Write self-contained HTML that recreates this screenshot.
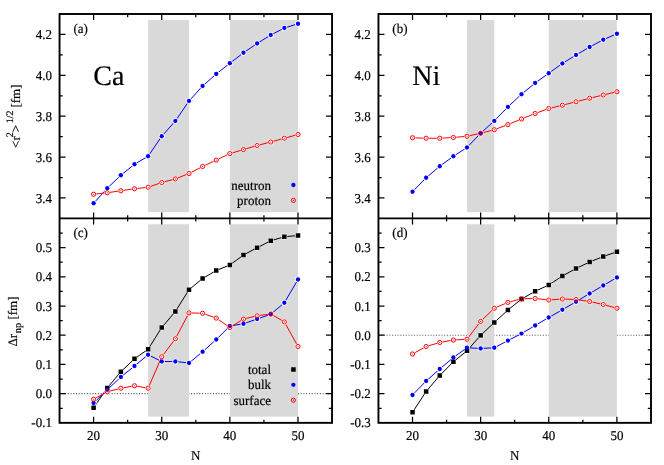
<!DOCTYPE html>
<html><head><meta charset="utf-8"><title>chart</title>
<style>
html,body{margin:0;padding:0;background:#fff;}
body{width:664px;height:465px;position:relative;overflow:hidden;font-family:"Liberation Serif",serif;color:#000;}
svg text{font-family:"Liberation Serif",serif;}
</style></head><body>
<svg width="664" height="465" viewBox="0 0 664 465" style="position:absolute;left:0;top:0">
<rect x="0" y="0" width="664" height="465" fill="#fff"/>
<line x1="59.55" y1="393.64" x2="332.05" y2="393.64" stroke="#555" stroke-width="1.1" stroke-dasharray="1 1.74"/>
<line x1="378.45" y1="335.23" x2="651.00" y2="335.23" stroke="#555" stroke-width="1.1" stroke-dasharray="1 1.74"/>
<rect x="148.11" y="20.10" width="40.88" height="192.10" fill="#d9d9d9"/>
<rect x="229.86" y="20.10" width="68.12" height="192.10" fill="#d9d9d9"/>
<rect x="467.01" y="20.10" width="27.25" height="192.10" fill="#d9d9d9"/>
<rect x="548.76" y="20.10" width="68.12" height="192.10" fill="#d9d9d9"/>
<rect x="148.11" y="224.30" width="40.88" height="192.35" fill="#d9d9d9"/>
<rect x="229.86" y="224.30" width="68.12" height="192.35" fill="#d9d9d9"/>
<rect x="467.01" y="224.30" width="27.25" height="192.35" fill="#d9d9d9"/>
<rect x="548.76" y="224.30" width="68.12" height="192.35" fill="#d9d9d9"/>
<polyline fill="none" stroke="#0000ff" stroke-width="1" points="93.61,203.25 107.24,188.25 120.86,175.25 134.49,164.25 148.11,156.25 161.74,136.25 175.36,121.00 188.99,101.00 202.61,86.00 216.24,74.00 229.86,63.25 243.49,52.75 257.11,43.50 270.74,35.00 284.36,28.00 297.99,23.75"/>
<circle cx="93.61" cy="203.25" r="2.95" fill="#fff"/>
<circle cx="107.24" cy="188.25" r="2.95" fill="#fff"/>
<circle cx="120.86" cy="175.25" r="2.95" fill="#fff"/>
<circle cx="134.49" cy="164.25" r="2.95" fill="#fff"/>
<circle cx="148.11" cy="156.25" r="2.95" fill="#fff"/>
<circle cx="161.74" cy="136.25" r="2.95" fill="#fff"/>
<circle cx="175.36" cy="121.00" r="2.95" fill="#fff"/>
<circle cx="188.99" cy="101.00" r="2.95" fill="#fff"/>
<circle cx="202.61" cy="86.00" r="2.95" fill="#fff"/>
<circle cx="216.24" cy="74.00" r="2.95" fill="#fff"/>
<circle cx="229.86" cy="63.25" r="2.95" fill="#fff"/>
<circle cx="243.49" cy="52.75" r="2.95" fill="#fff"/>
<circle cx="257.11" cy="43.50" r="2.95" fill="#fff"/>
<circle cx="270.74" cy="35.00" r="2.95" fill="#fff"/>
<circle cx="284.36" cy="28.00" r="2.95" fill="#fff"/>
<circle cx="297.99" cy="23.75" r="2.95" fill="#fff"/>
<polyline fill="none" stroke="#ff0000" stroke-width="1" points="93.61,194.25 107.24,192.75 120.86,190.75 134.49,188.75 148.11,187.25 161.74,182.50 175.36,178.90 188.99,173.50 202.61,166.50 216.24,160.10 229.86,153.60 243.49,149.60 257.11,145.50 270.74,142.00 284.36,138.25 297.99,134.50"/>
<circle cx="93.61" cy="194.25" r="2.95" fill="#fff"/>
<circle cx="107.24" cy="192.75" r="2.95" fill="#fff"/>
<circle cx="120.86" cy="190.75" r="2.95" fill="#fff"/>
<circle cx="134.49" cy="188.75" r="2.95" fill="#fff"/>
<circle cx="148.11" cy="187.25" r="2.95" fill="#fff"/>
<circle cx="161.74" cy="182.50" r="2.95" fill="#fff"/>
<circle cx="175.36" cy="178.90" r="2.95" fill="#fff"/>
<circle cx="188.99" cy="173.50" r="2.95" fill="#fff"/>
<circle cx="202.61" cy="166.50" r="2.95" fill="#fff"/>
<circle cx="216.24" cy="160.10" r="2.95" fill="#fff"/>
<circle cx="229.86" cy="153.60" r="2.95" fill="#fff"/>
<circle cx="243.49" cy="149.60" r="2.95" fill="#fff"/>
<circle cx="257.11" cy="145.50" r="2.95" fill="#fff"/>
<circle cx="270.74" cy="142.00" r="2.95" fill="#fff"/>
<circle cx="284.36" cy="138.25" r="2.95" fill="#fff"/>
<circle cx="297.99" cy="134.50" r="2.95" fill="#fff"/>
<circle cx="93.61" cy="203.25" r="2.15" fill="#0000ff"/>
<circle cx="107.24" cy="188.25" r="2.15" fill="#0000ff"/>
<circle cx="120.86" cy="175.25" r="2.15" fill="#0000ff"/>
<circle cx="134.49" cy="164.25" r="2.15" fill="#0000ff"/>
<circle cx="148.11" cy="156.25" r="2.15" fill="#0000ff"/>
<circle cx="161.74" cy="136.25" r="2.15" fill="#0000ff"/>
<circle cx="175.36" cy="121.00" r="2.15" fill="#0000ff"/>
<circle cx="188.99" cy="101.00" r="2.15" fill="#0000ff"/>
<circle cx="202.61" cy="86.00" r="2.15" fill="#0000ff"/>
<circle cx="216.24" cy="74.00" r="2.15" fill="#0000ff"/>
<circle cx="229.86" cy="63.25" r="2.15" fill="#0000ff"/>
<circle cx="243.49" cy="52.75" r="2.15" fill="#0000ff"/>
<circle cx="257.11" cy="43.50" r="2.15" fill="#0000ff"/>
<circle cx="270.74" cy="35.00" r="2.15" fill="#0000ff"/>
<circle cx="284.36" cy="28.00" r="2.15" fill="#0000ff"/>
<circle cx="297.99" cy="23.75" r="2.15" fill="#0000ff"/>
<circle cx="93.61" cy="194.25" r="2.1" fill="none" stroke="#ff0000" stroke-width="1.0"/>
<circle cx="93.61" cy="194.25" r="0.6" fill="#ff0000"/>
<circle cx="107.24" cy="192.75" r="2.1" fill="none" stroke="#ff0000" stroke-width="1.0"/>
<circle cx="107.24" cy="192.75" r="0.6" fill="#ff0000"/>
<circle cx="120.86" cy="190.75" r="2.1" fill="none" stroke="#ff0000" stroke-width="1.0"/>
<circle cx="120.86" cy="190.75" r="0.6" fill="#ff0000"/>
<circle cx="134.49" cy="188.75" r="2.1" fill="none" stroke="#ff0000" stroke-width="1.0"/>
<circle cx="134.49" cy="188.75" r="0.6" fill="#ff0000"/>
<circle cx="148.11" cy="187.25" r="2.1" fill="none" stroke="#ff0000" stroke-width="1.0"/>
<circle cx="148.11" cy="187.25" r="0.6" fill="#ff0000"/>
<circle cx="161.74" cy="182.50" r="2.1" fill="none" stroke="#ff0000" stroke-width="1.0"/>
<circle cx="161.74" cy="182.50" r="0.6" fill="#ff0000"/>
<circle cx="175.36" cy="178.90" r="2.1" fill="none" stroke="#ff0000" stroke-width="1.0"/>
<circle cx="175.36" cy="178.90" r="0.6" fill="#ff0000"/>
<circle cx="188.99" cy="173.50" r="2.1" fill="none" stroke="#ff0000" stroke-width="1.0"/>
<circle cx="188.99" cy="173.50" r="0.6" fill="#ff0000"/>
<circle cx="202.61" cy="166.50" r="2.1" fill="none" stroke="#ff0000" stroke-width="1.0"/>
<circle cx="202.61" cy="166.50" r="0.6" fill="#ff0000"/>
<circle cx="216.24" cy="160.10" r="2.1" fill="none" stroke="#ff0000" stroke-width="1.0"/>
<circle cx="216.24" cy="160.10" r="0.6" fill="#ff0000"/>
<circle cx="229.86" cy="153.60" r="2.1" fill="none" stroke="#ff0000" stroke-width="1.0"/>
<circle cx="229.86" cy="153.60" r="0.6" fill="#ff0000"/>
<circle cx="243.49" cy="149.60" r="2.1" fill="none" stroke="#ff0000" stroke-width="1.0"/>
<circle cx="243.49" cy="149.60" r="0.6" fill="#ff0000"/>
<circle cx="257.11" cy="145.50" r="2.1" fill="none" stroke="#ff0000" stroke-width="1.0"/>
<circle cx="257.11" cy="145.50" r="0.6" fill="#ff0000"/>
<circle cx="270.74" cy="142.00" r="2.1" fill="none" stroke="#ff0000" stroke-width="1.0"/>
<circle cx="270.74" cy="142.00" r="0.6" fill="#ff0000"/>
<circle cx="284.36" cy="138.25" r="2.1" fill="none" stroke="#ff0000" stroke-width="1.0"/>
<circle cx="284.36" cy="138.25" r="0.6" fill="#ff0000"/>
<circle cx="297.99" cy="134.50" r="2.1" fill="none" stroke="#ff0000" stroke-width="1.0"/>
<circle cx="297.99" cy="134.50" r="0.6" fill="#ff0000"/>
<polyline fill="none" stroke="#0000ff" stroke-width="1" points="412.51,191.75 426.14,177.75 439.76,166.25 453.39,156.25 467.01,147.50 480.64,133.25 494.26,120.90 507.89,106.90 521.51,94.25 535.14,83.00 548.76,73.25 562.39,63.50 576.01,55.00 589.64,47.00 603.26,39.75 616.89,33.75"/>
<circle cx="412.51" cy="191.75" r="2.95" fill="#fff"/>
<circle cx="426.14" cy="177.75" r="2.95" fill="#fff"/>
<circle cx="439.76" cy="166.25" r="2.95" fill="#fff"/>
<circle cx="453.39" cy="156.25" r="2.95" fill="#fff"/>
<circle cx="467.01" cy="147.50" r="2.95" fill="#fff"/>
<circle cx="480.64" cy="133.25" r="2.95" fill="#fff"/>
<circle cx="494.26" cy="120.90" r="2.95" fill="#fff"/>
<circle cx="507.89" cy="106.90" r="2.95" fill="#fff"/>
<circle cx="521.51" cy="94.25" r="2.95" fill="#fff"/>
<circle cx="535.14" cy="83.00" r="2.95" fill="#fff"/>
<circle cx="548.76" cy="73.25" r="2.95" fill="#fff"/>
<circle cx="562.39" cy="63.50" r="2.95" fill="#fff"/>
<circle cx="576.01" cy="55.00" r="2.95" fill="#fff"/>
<circle cx="589.64" cy="47.00" r="2.95" fill="#fff"/>
<circle cx="603.26" cy="39.75" r="2.95" fill="#fff"/>
<circle cx="616.89" cy="33.75" r="2.95" fill="#fff"/>
<polyline fill="none" stroke="#ff0000" stroke-width="1" points="412.51,137.75 426.14,138.25 439.76,138.25 453.39,137.50 467.01,136.25 480.64,133.25 494.26,129.75 507.89,124.60 521.51,119.00 535.14,113.50 548.76,108.50 562.39,105.25 576.01,101.75 589.64,98.25 603.26,95.00 616.89,91.75"/>
<circle cx="412.51" cy="137.75" r="2.95" fill="#fff"/>
<circle cx="426.14" cy="138.25" r="2.95" fill="#fff"/>
<circle cx="439.76" cy="138.25" r="2.95" fill="#fff"/>
<circle cx="453.39" cy="137.50" r="2.95" fill="#fff"/>
<circle cx="467.01" cy="136.25" r="2.95" fill="#fff"/>
<circle cx="480.64" cy="133.25" r="2.95" fill="#fff"/>
<circle cx="494.26" cy="129.75" r="2.95" fill="#fff"/>
<circle cx="507.89" cy="124.60" r="2.95" fill="#fff"/>
<circle cx="521.51" cy="119.00" r="2.95" fill="#fff"/>
<circle cx="535.14" cy="113.50" r="2.95" fill="#fff"/>
<circle cx="548.76" cy="108.50" r="2.95" fill="#fff"/>
<circle cx="562.39" cy="105.25" r="2.95" fill="#fff"/>
<circle cx="576.01" cy="101.75" r="2.95" fill="#fff"/>
<circle cx="589.64" cy="98.25" r="2.95" fill="#fff"/>
<circle cx="603.26" cy="95.00" r="2.95" fill="#fff"/>
<circle cx="616.89" cy="91.75" r="2.95" fill="#fff"/>
<circle cx="412.51" cy="191.75" r="2.15" fill="#0000ff"/>
<circle cx="426.14" cy="177.75" r="2.15" fill="#0000ff"/>
<circle cx="439.76" cy="166.25" r="2.15" fill="#0000ff"/>
<circle cx="453.39" cy="156.25" r="2.15" fill="#0000ff"/>
<circle cx="467.01" cy="147.50" r="2.15" fill="#0000ff"/>
<circle cx="480.64" cy="133.25" r="2.15" fill="#0000ff"/>
<circle cx="494.26" cy="120.90" r="2.15" fill="#0000ff"/>
<circle cx="507.89" cy="106.90" r="2.15" fill="#0000ff"/>
<circle cx="521.51" cy="94.25" r="2.15" fill="#0000ff"/>
<circle cx="535.14" cy="83.00" r="2.15" fill="#0000ff"/>
<circle cx="548.76" cy="73.25" r="2.15" fill="#0000ff"/>
<circle cx="562.39" cy="63.50" r="2.15" fill="#0000ff"/>
<circle cx="576.01" cy="55.00" r="2.15" fill="#0000ff"/>
<circle cx="589.64" cy="47.00" r="2.15" fill="#0000ff"/>
<circle cx="603.26" cy="39.75" r="2.15" fill="#0000ff"/>
<circle cx="616.89" cy="33.75" r="2.15" fill="#0000ff"/>
<circle cx="412.51" cy="137.75" r="2.1" fill="none" stroke="#ff0000" stroke-width="1.0"/>
<circle cx="412.51" cy="137.75" r="0.6" fill="#ff0000"/>
<circle cx="426.14" cy="138.25" r="2.1" fill="none" stroke="#ff0000" stroke-width="1.0"/>
<circle cx="426.14" cy="138.25" r="0.6" fill="#ff0000"/>
<circle cx="439.76" cy="138.25" r="2.1" fill="none" stroke="#ff0000" stroke-width="1.0"/>
<circle cx="439.76" cy="138.25" r="0.6" fill="#ff0000"/>
<circle cx="453.39" cy="137.50" r="2.1" fill="none" stroke="#ff0000" stroke-width="1.0"/>
<circle cx="453.39" cy="137.50" r="0.6" fill="#ff0000"/>
<circle cx="467.01" cy="136.25" r="2.1" fill="none" stroke="#ff0000" stroke-width="1.0"/>
<circle cx="467.01" cy="136.25" r="0.6" fill="#ff0000"/>
<circle cx="480.64" cy="133.25" r="2.1" fill="none" stroke="#ff0000" stroke-width="1.0"/>
<circle cx="480.64" cy="133.25" r="0.6" fill="#ff0000"/>
<circle cx="494.26" cy="129.75" r="2.1" fill="none" stroke="#ff0000" stroke-width="1.0"/>
<circle cx="494.26" cy="129.75" r="0.6" fill="#ff0000"/>
<circle cx="507.89" cy="124.60" r="2.1" fill="none" stroke="#ff0000" stroke-width="1.0"/>
<circle cx="507.89" cy="124.60" r="0.6" fill="#ff0000"/>
<circle cx="521.51" cy="119.00" r="2.1" fill="none" stroke="#ff0000" stroke-width="1.0"/>
<circle cx="521.51" cy="119.00" r="0.6" fill="#ff0000"/>
<circle cx="535.14" cy="113.50" r="2.1" fill="none" stroke="#ff0000" stroke-width="1.0"/>
<circle cx="535.14" cy="113.50" r="0.6" fill="#ff0000"/>
<circle cx="548.76" cy="108.50" r="2.1" fill="none" stroke="#ff0000" stroke-width="1.0"/>
<circle cx="548.76" cy="108.50" r="0.6" fill="#ff0000"/>
<circle cx="562.39" cy="105.25" r="2.1" fill="none" stroke="#ff0000" stroke-width="1.0"/>
<circle cx="562.39" cy="105.25" r="0.6" fill="#ff0000"/>
<circle cx="576.01" cy="101.75" r="2.1" fill="none" stroke="#ff0000" stroke-width="1.0"/>
<circle cx="576.01" cy="101.75" r="0.6" fill="#ff0000"/>
<circle cx="589.64" cy="98.25" r="2.1" fill="none" stroke="#ff0000" stroke-width="1.0"/>
<circle cx="589.64" cy="98.25" r="0.6" fill="#ff0000"/>
<circle cx="603.26" cy="95.00" r="2.1" fill="none" stroke="#ff0000" stroke-width="1.0"/>
<circle cx="603.26" cy="95.00" r="0.6" fill="#ff0000"/>
<circle cx="616.89" cy="91.75" r="2.1" fill="none" stroke="#ff0000" stroke-width="1.0"/>
<circle cx="616.89" cy="91.75" r="0.6" fill="#ff0000"/>
<polyline fill="none" stroke="#000" stroke-width="1" points="93.61,407.75 107.24,388.00 120.86,371.75 134.49,358.75 148.11,349.25 161.74,327.50 175.36,311.50 188.99,289.75 202.61,278.50 216.24,270.50 229.86,265.00 243.49,255.00 257.11,247.75 270.74,240.75 284.36,236.75 297.99,235.50"/>
<circle cx="93.61" cy="407.75" r="2.95" fill="#fff"/>
<circle cx="107.24" cy="388.00" r="2.95" fill="#fff"/>
<circle cx="120.86" cy="371.75" r="2.95" fill="#fff"/>
<circle cx="134.49" cy="358.75" r="2.95" fill="#fff"/>
<circle cx="148.11" cy="349.25" r="2.95" fill="#fff"/>
<circle cx="161.74" cy="327.50" r="2.95" fill="#fff"/>
<circle cx="175.36" cy="311.50" r="2.95" fill="#fff"/>
<circle cx="188.99" cy="289.75" r="2.95" fill="#fff"/>
<circle cx="202.61" cy="278.50" r="2.95" fill="#fff"/>
<circle cx="216.24" cy="270.50" r="2.95" fill="#fff"/>
<circle cx="229.86" cy="265.00" r="2.95" fill="#fff"/>
<circle cx="243.49" cy="255.00" r="2.95" fill="#fff"/>
<circle cx="257.11" cy="247.75" r="2.95" fill="#fff"/>
<circle cx="270.74" cy="240.75" r="2.95" fill="#fff"/>
<circle cx="284.36" cy="236.75" r="2.95" fill="#fff"/>
<circle cx="297.99" cy="235.50" r="2.95" fill="#fff"/>
<polyline fill="none" stroke="#0000ff" stroke-width="1" points="93.61,403.00 107.24,389.75 120.86,377.00 134.49,366.00 148.11,354.75 161.74,361.50 175.36,361.50 188.99,363.00 202.61,351.75 216.24,339.50 229.86,326.00 243.49,323.75 257.11,319.00 270.74,314.25 284.36,302.75 297.99,279.50"/>
<circle cx="93.61" cy="403.00" r="2.95" fill="#fff"/>
<circle cx="107.24" cy="389.75" r="2.95" fill="#fff"/>
<circle cx="120.86" cy="377.00" r="2.95" fill="#fff"/>
<circle cx="134.49" cy="366.00" r="2.95" fill="#fff"/>
<circle cx="148.11" cy="354.75" r="2.95" fill="#fff"/>
<circle cx="161.74" cy="361.50" r="2.95" fill="#fff"/>
<circle cx="175.36" cy="361.50" r="2.95" fill="#fff"/>
<circle cx="188.99" cy="363.00" r="2.95" fill="#fff"/>
<circle cx="202.61" cy="351.75" r="2.95" fill="#fff"/>
<circle cx="216.24" cy="339.50" r="2.95" fill="#fff"/>
<circle cx="229.86" cy="326.00" r="2.95" fill="#fff"/>
<circle cx="243.49" cy="323.75" r="2.95" fill="#fff"/>
<circle cx="257.11" cy="319.00" r="2.95" fill="#fff"/>
<circle cx="270.74" cy="314.25" r="2.95" fill="#fff"/>
<circle cx="284.36" cy="302.75" r="2.95" fill="#fff"/>
<circle cx="297.99" cy="279.50" r="2.95" fill="#fff"/>
<polyline fill="none" stroke="#ff0000" stroke-width="1" points="93.61,399.25 107.24,391.75 120.86,388.25 134.49,385.75 148.11,388.25 161.74,356.75 175.36,338.75 188.99,312.90 202.61,313.25 216.24,318.10 229.86,327.50 243.49,319.10 257.11,315.75 270.74,314.00 284.36,321.90 297.99,346.50"/>
<circle cx="93.61" cy="399.25" r="2.95" fill="#fff"/>
<circle cx="107.24" cy="391.75" r="2.95" fill="#fff"/>
<circle cx="120.86" cy="388.25" r="2.95" fill="#fff"/>
<circle cx="134.49" cy="385.75" r="2.95" fill="#fff"/>
<circle cx="148.11" cy="388.25" r="2.95" fill="#fff"/>
<circle cx="161.74" cy="356.75" r="2.95" fill="#fff"/>
<circle cx="175.36" cy="338.75" r="2.95" fill="#fff"/>
<circle cx="188.99" cy="312.90" r="2.95" fill="#fff"/>
<circle cx="202.61" cy="313.25" r="2.95" fill="#fff"/>
<circle cx="216.24" cy="318.10" r="2.95" fill="#fff"/>
<circle cx="229.86" cy="327.50" r="2.95" fill="#fff"/>
<circle cx="243.49" cy="319.10" r="2.95" fill="#fff"/>
<circle cx="257.11" cy="315.75" r="2.95" fill="#fff"/>
<circle cx="270.74" cy="314.00" r="2.95" fill="#fff"/>
<circle cx="284.36" cy="321.90" r="2.95" fill="#fff"/>
<circle cx="297.99" cy="346.50" r="2.95" fill="#fff"/>
<rect x="91.36" y="405.50" width="4.5" height="4.5" fill="#000"/>
<rect x="104.99" y="385.75" width="4.5" height="4.5" fill="#000"/>
<rect x="118.61" y="369.50" width="4.5" height="4.5" fill="#000"/>
<rect x="132.24" y="356.50" width="4.5" height="4.5" fill="#000"/>
<rect x="145.86" y="347.00" width="4.5" height="4.5" fill="#000"/>
<rect x="159.49" y="325.25" width="4.5" height="4.5" fill="#000"/>
<rect x="173.11" y="309.25" width="4.5" height="4.5" fill="#000"/>
<rect x="186.74" y="287.50" width="4.5" height="4.5" fill="#000"/>
<rect x="200.36" y="276.25" width="4.5" height="4.5" fill="#000"/>
<rect x="213.99" y="268.25" width="4.5" height="4.5" fill="#000"/>
<rect x="227.61" y="262.75" width="4.5" height="4.5" fill="#000"/>
<rect x="241.24" y="252.75" width="4.5" height="4.5" fill="#000"/>
<rect x="254.86" y="245.50" width="4.5" height="4.5" fill="#000"/>
<rect x="268.49" y="238.50" width="4.5" height="4.5" fill="#000"/>
<rect x="282.11" y="234.50" width="4.5" height="4.5" fill="#000"/>
<rect x="295.74" y="233.25" width="4.5" height="4.5" fill="#000"/>
<circle cx="93.61" cy="403.00" r="2.15" fill="#0000ff"/>
<circle cx="107.24" cy="389.75" r="2.15" fill="#0000ff"/>
<circle cx="120.86" cy="377.00" r="2.15" fill="#0000ff"/>
<circle cx="134.49" cy="366.00" r="2.15" fill="#0000ff"/>
<circle cx="148.11" cy="354.75" r="2.15" fill="#0000ff"/>
<circle cx="161.74" cy="361.50" r="2.15" fill="#0000ff"/>
<circle cx="175.36" cy="361.50" r="2.15" fill="#0000ff"/>
<circle cx="188.99" cy="363.00" r="2.15" fill="#0000ff"/>
<circle cx="202.61" cy="351.75" r="2.15" fill="#0000ff"/>
<circle cx="216.24" cy="339.50" r="2.15" fill="#0000ff"/>
<circle cx="229.86" cy="326.00" r="2.15" fill="#0000ff"/>
<circle cx="243.49" cy="323.75" r="2.15" fill="#0000ff"/>
<circle cx="257.11" cy="319.00" r="2.15" fill="#0000ff"/>
<circle cx="270.74" cy="314.25" r="2.15" fill="#0000ff"/>
<circle cx="284.36" cy="302.75" r="2.15" fill="#0000ff"/>
<circle cx="297.99" cy="279.50" r="2.15" fill="#0000ff"/>
<circle cx="93.61" cy="399.25" r="2.1" fill="none" stroke="#ff0000" stroke-width="1.0"/>
<circle cx="93.61" cy="399.25" r="0.6" fill="#ff0000"/>
<circle cx="107.24" cy="391.75" r="2.1" fill="none" stroke="#ff0000" stroke-width="1.0"/>
<circle cx="107.24" cy="391.75" r="0.6" fill="#ff0000"/>
<circle cx="120.86" cy="388.25" r="2.1" fill="none" stroke="#ff0000" stroke-width="1.0"/>
<circle cx="120.86" cy="388.25" r="0.6" fill="#ff0000"/>
<circle cx="134.49" cy="385.75" r="2.1" fill="none" stroke="#ff0000" stroke-width="1.0"/>
<circle cx="134.49" cy="385.75" r="0.6" fill="#ff0000"/>
<circle cx="148.11" cy="388.25" r="2.1" fill="none" stroke="#ff0000" stroke-width="1.0"/>
<circle cx="148.11" cy="388.25" r="0.6" fill="#ff0000"/>
<circle cx="161.74" cy="356.75" r="2.1" fill="none" stroke="#ff0000" stroke-width="1.0"/>
<circle cx="161.74" cy="356.75" r="0.6" fill="#ff0000"/>
<circle cx="175.36" cy="338.75" r="2.1" fill="none" stroke="#ff0000" stroke-width="1.0"/>
<circle cx="175.36" cy="338.75" r="0.6" fill="#ff0000"/>
<circle cx="188.99" cy="312.90" r="2.1" fill="none" stroke="#ff0000" stroke-width="1.0"/>
<circle cx="188.99" cy="312.90" r="0.6" fill="#ff0000"/>
<circle cx="202.61" cy="313.25" r="2.1" fill="none" stroke="#ff0000" stroke-width="1.0"/>
<circle cx="202.61" cy="313.25" r="0.6" fill="#ff0000"/>
<circle cx="216.24" cy="318.10" r="2.1" fill="none" stroke="#ff0000" stroke-width="1.0"/>
<circle cx="216.24" cy="318.10" r="0.6" fill="#ff0000"/>
<circle cx="229.86" cy="327.50" r="2.1" fill="none" stroke="#ff0000" stroke-width="1.0"/>
<circle cx="229.86" cy="327.50" r="0.6" fill="#ff0000"/>
<circle cx="243.49" cy="319.10" r="2.1" fill="none" stroke="#ff0000" stroke-width="1.0"/>
<circle cx="243.49" cy="319.10" r="0.6" fill="#ff0000"/>
<circle cx="257.11" cy="315.75" r="2.1" fill="none" stroke="#ff0000" stroke-width="1.0"/>
<circle cx="257.11" cy="315.75" r="0.6" fill="#ff0000"/>
<circle cx="270.74" cy="314.00" r="2.1" fill="none" stroke="#ff0000" stroke-width="1.0"/>
<circle cx="270.74" cy="314.00" r="0.6" fill="#ff0000"/>
<circle cx="284.36" cy="321.90" r="2.1" fill="none" stroke="#ff0000" stroke-width="1.0"/>
<circle cx="284.36" cy="321.90" r="0.6" fill="#ff0000"/>
<circle cx="297.99" cy="346.50" r="2.1" fill="none" stroke="#ff0000" stroke-width="1.0"/>
<circle cx="297.99" cy="346.50" r="0.6" fill="#ff0000"/>
<polyline fill="none" stroke="#000" stroke-width="1" points="412.51,412.25 426.14,391.50 439.76,375.50 453.39,361.75 467.01,350.75 480.64,335.40 494.26,322.50 507.89,310.00 521.51,299.10 535.14,291.25 548.76,285.00 562.39,276.00 576.01,268.50 589.64,262.00 603.26,256.50 616.89,251.75"/>
<circle cx="412.51" cy="412.25" r="2.95" fill="#fff"/>
<circle cx="426.14" cy="391.50" r="2.95" fill="#fff"/>
<circle cx="439.76" cy="375.50" r="2.95" fill="#fff"/>
<circle cx="453.39" cy="361.75" r="2.95" fill="#fff"/>
<circle cx="467.01" cy="350.75" r="2.95" fill="#fff"/>
<circle cx="480.64" cy="335.40" r="2.95" fill="#fff"/>
<circle cx="494.26" cy="322.50" r="2.95" fill="#fff"/>
<circle cx="507.89" cy="310.00" r="2.95" fill="#fff"/>
<circle cx="521.51" cy="299.10" r="2.95" fill="#fff"/>
<circle cx="535.14" cy="291.25" r="2.95" fill="#fff"/>
<circle cx="548.76" cy="285.00" r="2.95" fill="#fff"/>
<circle cx="562.39" cy="276.00" r="2.95" fill="#fff"/>
<circle cx="576.01" cy="268.50" r="2.95" fill="#fff"/>
<circle cx="589.64" cy="262.00" r="2.95" fill="#fff"/>
<circle cx="603.26" cy="256.50" r="2.95" fill="#fff"/>
<circle cx="616.89" cy="251.75" r="2.95" fill="#fff"/>
<polyline fill="none" stroke="#0000ff" stroke-width="1" points="412.51,395.00 426.14,381.00 439.76,369.00 453.39,357.50 467.01,347.75 480.64,348.50 494.26,347.75 507.89,340.60 521.51,333.60 535.14,325.50 548.76,317.50 562.39,309.75 576.01,301.75 589.64,293.50 603.26,285.50 616.89,277.50"/>
<circle cx="412.51" cy="395.00" r="2.95" fill="#fff"/>
<circle cx="426.14" cy="381.00" r="2.95" fill="#fff"/>
<circle cx="439.76" cy="369.00" r="2.95" fill="#fff"/>
<circle cx="453.39" cy="357.50" r="2.95" fill="#fff"/>
<circle cx="467.01" cy="347.75" r="2.95" fill="#fff"/>
<circle cx="480.64" cy="348.50" r="2.95" fill="#fff"/>
<circle cx="494.26" cy="347.75" r="2.95" fill="#fff"/>
<circle cx="507.89" cy="340.60" r="2.95" fill="#fff"/>
<circle cx="521.51" cy="333.60" r="2.95" fill="#fff"/>
<circle cx="535.14" cy="325.50" r="2.95" fill="#fff"/>
<circle cx="548.76" cy="317.50" r="2.95" fill="#fff"/>
<circle cx="562.39" cy="309.75" r="2.95" fill="#fff"/>
<circle cx="576.01" cy="301.75" r="2.95" fill="#fff"/>
<circle cx="589.64" cy="293.50" r="2.95" fill="#fff"/>
<circle cx="603.26" cy="285.50" r="2.95" fill="#fff"/>
<circle cx="616.89" cy="277.50" r="2.95" fill="#fff"/>
<polyline fill="none" stroke="#ff0000" stroke-width="1" points="412.51,354.00 426.14,346.50 439.76,342.50 453.39,340.00 467.01,339.25 480.64,321.40 494.26,308.25 507.89,302.40 521.51,298.75 535.14,298.50 548.76,300.00 562.39,299.00 576.01,299.50 589.64,301.50 603.26,304.50 616.89,308.25"/>
<circle cx="412.51" cy="354.00" r="2.95" fill="#fff"/>
<circle cx="426.14" cy="346.50" r="2.95" fill="#fff"/>
<circle cx="439.76" cy="342.50" r="2.95" fill="#fff"/>
<circle cx="453.39" cy="340.00" r="2.95" fill="#fff"/>
<circle cx="467.01" cy="339.25" r="2.95" fill="#fff"/>
<circle cx="480.64" cy="321.40" r="2.95" fill="#fff"/>
<circle cx="494.26" cy="308.25" r="2.95" fill="#fff"/>
<circle cx="507.89" cy="302.40" r="2.95" fill="#fff"/>
<circle cx="521.51" cy="298.75" r="2.95" fill="#fff"/>
<circle cx="535.14" cy="298.50" r="2.95" fill="#fff"/>
<circle cx="548.76" cy="300.00" r="2.95" fill="#fff"/>
<circle cx="562.39" cy="299.00" r="2.95" fill="#fff"/>
<circle cx="576.01" cy="299.50" r="2.95" fill="#fff"/>
<circle cx="589.64" cy="301.50" r="2.95" fill="#fff"/>
<circle cx="603.26" cy="304.50" r="2.95" fill="#fff"/>
<circle cx="616.89" cy="308.25" r="2.95" fill="#fff"/>
<rect x="410.26" y="410.00" width="4.5" height="4.5" fill="#000"/>
<rect x="423.89" y="389.25" width="4.5" height="4.5" fill="#000"/>
<rect x="437.51" y="373.25" width="4.5" height="4.5" fill="#000"/>
<rect x="451.14" y="359.50" width="4.5" height="4.5" fill="#000"/>
<rect x="464.76" y="348.50" width="4.5" height="4.5" fill="#000"/>
<rect x="478.39" y="333.15" width="4.5" height="4.5" fill="#000"/>
<rect x="492.01" y="320.25" width="4.5" height="4.5" fill="#000"/>
<rect x="505.64" y="307.75" width="4.5" height="4.5" fill="#000"/>
<rect x="519.26" y="296.85" width="4.5" height="4.5" fill="#000"/>
<rect x="532.89" y="289.00" width="4.5" height="4.5" fill="#000"/>
<rect x="546.51" y="282.75" width="4.5" height="4.5" fill="#000"/>
<rect x="560.14" y="273.75" width="4.5" height="4.5" fill="#000"/>
<rect x="573.76" y="266.25" width="4.5" height="4.5" fill="#000"/>
<rect x="587.39" y="259.75" width="4.5" height="4.5" fill="#000"/>
<rect x="601.01" y="254.25" width="4.5" height="4.5" fill="#000"/>
<rect x="614.64" y="249.50" width="4.5" height="4.5" fill="#000"/>
<circle cx="412.51" cy="395.00" r="2.15" fill="#0000ff"/>
<circle cx="426.14" cy="381.00" r="2.15" fill="#0000ff"/>
<circle cx="439.76" cy="369.00" r="2.15" fill="#0000ff"/>
<circle cx="453.39" cy="357.50" r="2.15" fill="#0000ff"/>
<circle cx="467.01" cy="347.75" r="2.15" fill="#0000ff"/>
<circle cx="480.64" cy="348.50" r="2.15" fill="#0000ff"/>
<circle cx="494.26" cy="347.75" r="2.15" fill="#0000ff"/>
<circle cx="507.89" cy="340.60" r="2.15" fill="#0000ff"/>
<circle cx="521.51" cy="333.60" r="2.15" fill="#0000ff"/>
<circle cx="535.14" cy="325.50" r="2.15" fill="#0000ff"/>
<circle cx="548.76" cy="317.50" r="2.15" fill="#0000ff"/>
<circle cx="562.39" cy="309.75" r="2.15" fill="#0000ff"/>
<circle cx="576.01" cy="301.75" r="2.15" fill="#0000ff"/>
<circle cx="589.64" cy="293.50" r="2.15" fill="#0000ff"/>
<circle cx="603.26" cy="285.50" r="2.15" fill="#0000ff"/>
<circle cx="616.89" cy="277.50" r="2.15" fill="#0000ff"/>
<circle cx="412.51" cy="354.00" r="2.1" fill="none" stroke="#ff0000" stroke-width="1.0"/>
<circle cx="412.51" cy="354.00" r="0.6" fill="#ff0000"/>
<circle cx="426.14" cy="346.50" r="2.1" fill="none" stroke="#ff0000" stroke-width="1.0"/>
<circle cx="426.14" cy="346.50" r="0.6" fill="#ff0000"/>
<circle cx="439.76" cy="342.50" r="2.1" fill="none" stroke="#ff0000" stroke-width="1.0"/>
<circle cx="439.76" cy="342.50" r="0.6" fill="#ff0000"/>
<circle cx="453.39" cy="340.00" r="2.1" fill="none" stroke="#ff0000" stroke-width="1.0"/>
<circle cx="453.39" cy="340.00" r="0.6" fill="#ff0000"/>
<circle cx="467.01" cy="339.25" r="2.1" fill="none" stroke="#ff0000" stroke-width="1.0"/>
<circle cx="467.01" cy="339.25" r="0.6" fill="#ff0000"/>
<circle cx="480.64" cy="321.40" r="2.1" fill="none" stroke="#ff0000" stroke-width="1.0"/>
<circle cx="480.64" cy="321.40" r="0.6" fill="#ff0000"/>
<circle cx="494.26" cy="308.25" r="2.1" fill="none" stroke="#ff0000" stroke-width="1.0"/>
<circle cx="494.26" cy="308.25" r="0.6" fill="#ff0000"/>
<circle cx="507.89" cy="302.40" r="2.1" fill="none" stroke="#ff0000" stroke-width="1.0"/>
<circle cx="507.89" cy="302.40" r="0.6" fill="#ff0000"/>
<circle cx="521.51" cy="298.75" r="2.1" fill="none" stroke="#ff0000" stroke-width="1.0"/>
<circle cx="521.51" cy="298.75" r="0.6" fill="#ff0000"/>
<circle cx="535.14" cy="298.50" r="2.1" fill="none" stroke="#ff0000" stroke-width="1.0"/>
<circle cx="535.14" cy="298.50" r="0.6" fill="#ff0000"/>
<circle cx="548.76" cy="300.00" r="2.1" fill="none" stroke="#ff0000" stroke-width="1.0"/>
<circle cx="548.76" cy="300.00" r="0.6" fill="#ff0000"/>
<circle cx="562.39" cy="299.00" r="2.1" fill="none" stroke="#ff0000" stroke-width="1.0"/>
<circle cx="562.39" cy="299.00" r="0.6" fill="#ff0000"/>
<circle cx="576.01" cy="299.50" r="2.1" fill="none" stroke="#ff0000" stroke-width="1.0"/>
<circle cx="576.01" cy="299.50" r="0.6" fill="#ff0000"/>
<circle cx="589.64" cy="301.50" r="2.1" fill="none" stroke="#ff0000" stroke-width="1.0"/>
<circle cx="589.64" cy="301.50" r="0.6" fill="#ff0000"/>
<circle cx="603.26" cy="304.50" r="2.1" fill="none" stroke="#ff0000" stroke-width="1.0"/>
<circle cx="603.26" cy="304.50" r="0.6" fill="#ff0000"/>
<circle cx="616.89" cy="308.25" r="2.1" fill="none" stroke="#ff0000" stroke-width="1.0"/>
<circle cx="616.89" cy="308.25" r="0.6" fill="#ff0000"/>
<circle cx="293.40" cy="185.00" r="2.15" fill="#0000ff"/>
<circle cx="293.40" cy="200.40" r="2.1" fill="none" stroke="#ff0000" stroke-width="1.0"/>
<circle cx="293.40" cy="200.40" r="0.6" fill="#ff0000"/>
<rect x="291.15" y="367.25" width="4.5" height="4.5" fill="#000"/>
<circle cx="293.40" cy="384.80" r="2.15" fill="#0000ff"/>
<circle cx="293.40" cy="400.20" r="2.1" fill="none" stroke="#ff0000" stroke-width="1.0"/>
<circle cx="293.40" cy="400.20" r="0.6" fill="#ff0000"/>
<path d="M93.61 218.40L93.61 212.40M93.61 14.00L93.61 20.00M127.67 218.40L127.67 215.20M127.67 14.00L127.67 17.20M161.74 218.40L161.74 212.40M161.74 14.00L161.74 20.00M195.80 218.40L195.80 215.20M195.80 14.00L195.80 17.20M229.86 218.40L229.86 212.40M229.86 14.00L229.86 20.00M263.93 218.40L263.93 215.20M263.93 14.00L263.93 17.20M297.99 218.40L297.99 212.40M297.99 14.00L297.99 20.00M93.61 422.85L93.61 416.85M93.61 218.40L93.61 224.40M127.67 422.85L127.67 419.65M127.67 218.40L127.67 221.60M161.74 422.85L161.74 416.85M161.74 218.40L161.74 224.40M195.80 422.85L195.80 419.65M195.80 218.40L195.80 221.60M229.86 422.85L229.86 416.85M229.86 218.40L229.86 224.40M263.93 422.85L263.93 419.65M263.93 218.40L263.93 221.60M297.99 422.85L297.99 416.85M297.99 218.40L297.99 224.40M59.55 197.96L65.55 197.96M332.05 197.96L326.05 197.96M59.55 177.52L62.75 177.52M332.05 177.52L328.85 177.52M59.55 157.08L65.55 157.08M332.05 157.08L326.05 157.08M59.55 136.64L62.75 136.64M332.05 136.64L328.85 136.64M59.55 116.20L65.55 116.20M332.05 116.20L326.05 116.20M59.55 95.76L62.75 95.76M332.05 95.76L328.85 95.76M59.55 75.32L65.55 75.32M332.05 75.32L326.05 75.32M59.55 54.88L62.75 54.88M332.05 54.88L328.85 54.88M59.55 34.44L65.55 34.44M332.05 34.44L326.05 34.44M59.55 408.25L62.75 408.25M332.05 408.25L328.85 408.25M59.55 393.64L65.55 393.64M332.05 393.64L326.05 393.64M59.55 379.04L62.75 379.04M332.05 379.04L328.85 379.04M59.55 364.44L65.55 364.44M332.05 364.44L326.05 364.44M59.55 349.83L62.75 349.83M332.05 349.83L328.85 349.83M59.55 335.23L65.55 335.23M332.05 335.23L326.05 335.23M59.55 320.62L62.75 320.62M332.05 320.62L328.85 320.62M59.55 306.02L65.55 306.02M332.05 306.02L326.05 306.02M59.55 291.42L62.75 291.42M332.05 291.42L328.85 291.42M59.55 276.81L65.55 276.81M332.05 276.81L326.05 276.81M59.55 262.21L62.75 262.21M332.05 262.21L328.85 262.21M59.55 247.61L65.55 247.61M332.05 247.61L326.05 247.61M59.55 233.00L62.75 233.00M332.05 233.00L328.85 233.00M412.51 218.40L412.51 212.40M412.51 14.00L412.51 20.00M446.57 218.40L446.57 215.20M446.57 14.00L446.57 17.20M480.64 218.40L480.64 212.40M480.64 14.00L480.64 20.00M514.70 218.40L514.70 215.20M514.70 14.00L514.70 17.20M548.76 218.40L548.76 212.40M548.76 14.00L548.76 20.00M582.83 218.40L582.83 215.20M582.83 14.00L582.83 17.20M616.89 218.40L616.89 212.40M616.89 14.00L616.89 20.00M412.51 422.85L412.51 416.85M412.51 218.40L412.51 224.40M446.57 422.85L446.57 419.65M446.57 218.40L446.57 221.60M480.64 422.85L480.64 416.85M480.64 218.40L480.64 224.40M514.70 422.85L514.70 419.65M514.70 218.40L514.70 221.60M548.76 422.85L548.76 416.85M548.76 218.40L548.76 224.40M582.83 422.85L582.83 419.65M582.83 218.40L582.83 221.60M616.89 422.85L616.89 416.85M616.89 218.40L616.89 224.40M378.45 197.96L384.45 197.96M651.00 197.96L645.00 197.96M378.45 177.52L381.65 177.52M651.00 177.52L647.80 177.52M378.45 157.08L384.45 157.08M651.00 157.08L645.00 157.08M378.45 136.64L381.65 136.64M651.00 136.64L647.80 136.64M378.45 116.20L384.45 116.20M651.00 116.20L645.00 116.20M378.45 95.76L381.65 95.76M651.00 95.76L647.80 95.76M378.45 75.32L384.45 75.32M651.00 75.32L645.00 75.32M378.45 54.88L381.65 54.88M651.00 54.88L647.80 54.88M378.45 34.44L384.45 34.44M651.00 34.44L645.00 34.44M378.45 408.25L381.65 408.25M651.00 408.25L647.80 408.25M378.45 393.64L384.45 393.64M651.00 393.64L645.00 393.64M378.45 379.04L381.65 379.04M651.00 379.04L647.80 379.04M378.45 364.44L384.45 364.44M651.00 364.44L645.00 364.44M378.45 349.83L381.65 349.83M651.00 349.83L647.80 349.83M378.45 335.23L384.45 335.23M651.00 335.23L645.00 335.23M378.45 320.62L381.65 320.62M651.00 320.62L647.80 320.62M378.45 306.02L384.45 306.02M651.00 306.02L645.00 306.02M378.45 291.42L381.65 291.42M651.00 291.42L647.80 291.42M378.45 276.81L384.45 276.81M651.00 276.81L645.00 276.81M378.45 262.21L381.65 262.21M651.00 262.21L647.80 262.21M378.45 247.61L384.45 247.61M651.00 247.61L645.00 247.61M378.45 233.00L381.65 233.00M651.00 233.00L647.80 233.00" stroke="#000" stroke-width="1.25" fill="none"/>
<rect x="59.55" y="14.00" width="272.50" height="408.85" fill="none" stroke="#000" stroke-width="1.9"/>
<line x1="59.55" y1="218.40" x2="332.05" y2="218.40" stroke="#000" stroke-width="1.9"/>
<rect x="378.45" y="14.00" width="272.55" height="408.85" fill="none" stroke="#000" stroke-width="1.9"/>
<line x1="378.45" y1="218.40" x2="651.00" y2="218.40" stroke="#000" stroke-width="1.9"/>
<g font-family="Liberation Serif, serif" fill="#000" stroke="#000" stroke-width="0.18" style="filter:grayscale(1);text-rendering:geometricPrecision"><text transform="translate(51.90,202.51) scale(1,1.040)" text-anchor="end" font-size="13.00">3.4</text>
<text transform="translate(370.80,202.51) scale(1,1.040)" text-anchor="end" font-size="13.00">3.4</text>
<text transform="translate(51.90,161.63) scale(1,1.040)" text-anchor="end" font-size="13.00">3.6</text>
<text transform="translate(370.80,161.63) scale(1,1.040)" text-anchor="end" font-size="13.00">3.6</text>
<text transform="translate(51.90,120.75) scale(1,1.040)" text-anchor="end" font-size="13.00">3.8</text>
<text transform="translate(370.80,120.75) scale(1,1.040)" text-anchor="end" font-size="13.00">3.8</text>
<text transform="translate(51.90,79.87) scale(1,1.040)" text-anchor="end" font-size="13.00">4.0</text>
<text transform="translate(370.80,79.87) scale(1,1.040)" text-anchor="end" font-size="13.00">4.0</text>
<text transform="translate(51.90,38.99) scale(1,1.040)" text-anchor="end" font-size="13.00">4.2</text>
<text transform="translate(370.80,38.99) scale(1,1.040)" text-anchor="end" font-size="13.00">4.2</text>
<text transform="translate(51.90,427.40) scale(1,1.040)" text-anchor="end" font-size="13.00">-0.1</text>
<text transform="translate(51.90,398.19) scale(1,1.040)" text-anchor="end" font-size="13.00">0.0</text>
<text transform="translate(51.90,368.99) scale(1,1.040)" text-anchor="end" font-size="13.00">0.1</text>
<text transform="translate(51.90,339.78) scale(1,1.040)" text-anchor="end" font-size="13.00">0.2</text>
<text transform="translate(51.90,310.57) scale(1,1.040)" text-anchor="end" font-size="13.00">0.3</text>
<text transform="translate(51.90,281.36) scale(1,1.040)" text-anchor="end" font-size="13.00">0.4</text>
<text transform="translate(51.90,252.16) scale(1,1.040)" text-anchor="end" font-size="13.00">0.5</text>
<text transform="translate(370.80,427.40) scale(1,1.040)" text-anchor="end" font-size="13.00">-0.3</text>
<text transform="translate(370.80,398.19) scale(1,1.040)" text-anchor="end" font-size="13.00">-0.2</text>
<text transform="translate(370.80,368.99) scale(1,1.040)" text-anchor="end" font-size="13.00">-0.1</text>
<text transform="translate(370.80,339.78) scale(1,1.040)" text-anchor="end" font-size="13.00">0.0</text>
<text transform="translate(370.80,310.57) scale(1,1.040)" text-anchor="end" font-size="13.00">0.1</text>
<text transform="translate(370.80,281.36) scale(1,1.040)" text-anchor="end" font-size="13.00">0.2</text>
<text transform="translate(370.80,252.16) scale(1,1.040)" text-anchor="end" font-size="13.00">0.3</text>
<text transform="translate(93.61,440.45) scale(1,1.040)" text-anchor="middle" font-size="13.00">20</text>
<text transform="translate(412.51,440.45) scale(1,1.040)" text-anchor="middle" font-size="13.00">20</text>
<text transform="translate(161.74,440.45) scale(1,1.040)" text-anchor="middle" font-size="13.00">30</text>
<text transform="translate(480.64,440.45) scale(1,1.040)" text-anchor="middle" font-size="13.00">30</text>
<text transform="translate(229.86,440.45) scale(1,1.040)" text-anchor="middle" font-size="13.00">40</text>
<text transform="translate(548.76,440.45) scale(1,1.040)" text-anchor="middle" font-size="13.00">40</text>
<text transform="translate(297.99,440.45) scale(1,1.040)" text-anchor="middle" font-size="13.00">50</text>
<text transform="translate(616.89,440.45) scale(1,1.040)" text-anchor="middle" font-size="13.00">50</text>
<text transform="translate(195.80,459.50) scale(1,1.040)" text-anchor="middle" font-size="13.00">N</text>
<text transform="translate(514.73,459.50) scale(1,1.040)" text-anchor="middle" font-size="13.00">N</text>
<text transform="translate(73.40,33.00) scale(1,1.040)" text-anchor="start" font-size="13.00">(a)</text>
<text transform="translate(392.30,33.00) scale(1,1.040)" text-anchor="start" font-size="13.00">(b)</text>
<text transform="translate(73.40,237.40) scale(1,1.040)" text-anchor="start" font-size="13.00">(c)</text>
<text transform="translate(392.30,237.40) scale(1,1.040)" text-anchor="start" font-size="13.00">(d)</text>
<text transform="translate(93.30,85.00) scale(1,1.012)" text-anchor="start" font-size="28.00">Ca</text>
<text transform="translate(412.20,85.00) scale(1,1.012)" text-anchor="start" font-size="28.00">Ni</text>
<text transform="translate(271.00,189.50) scale(1,1.040)" text-anchor="end" font-size="13.00">neutron</text>
<text transform="translate(271.00,205.00) scale(1,1.040)" text-anchor="end" font-size="13.00">proton</text>
<text transform="translate(271.00,373.90) scale(1,1.040)" text-anchor="end" font-size="13.00">total</text>
<text transform="translate(271.00,389.30) scale(1,1.040)" text-anchor="end" font-size="13.00">bulk</text>
<text transform="translate(271.00,404.70) scale(1,1.040)" text-anchor="end" font-size="13.00">surface</text>
<text transform="translate(19.5,147.9) rotate(-90)" font-size="13">&lt;r<tspan font-size="10" dx="-1" dy="-6.2">2</tspan><tspan dy="6.2">&gt;</tspan><tspan font-size="10" dx="1.65" dy="-6.2">1/2</tspan><tspan dy="6.2" dx="-0.4"> [fm]</tspan></text>
<text transform="translate(17.1,346.5) rotate(-90)" font-size="13">&#916;r<tspan font-size="10.4" dx="0.6" dy="3.4">np</tspan><tspan dy="-3.4"> [fm]</tspan></text></g></svg>
</body></html>
